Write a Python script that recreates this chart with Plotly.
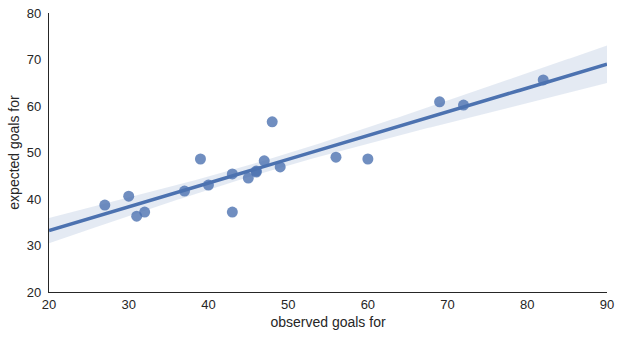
import numpy as np
import plotly.graph_objects as go

observed = [27, 30, 31, 32, 37, 39, 40, 43, 43, 45, 46, 46, 47, 48, 49, 56, 60, 69, 72, 82]
expected = [38.7, 40.6, 36.3, 37.2, 41.7, 48.6, 43.0, 45.4, 37.2, 44.5, 46.0, 45.8, 48.2, 56.6, 46.9, 49.0, 48.6, 60.9, 60.2, 65.6]
x_ticks = [20, 30, 40, 50, 60, 70, 80, 90]
y_ticks = [20, 30, 40, 50, 60, 70, 80]

x = np.array(observed, float)
y = np.array(expected, float)
n = len(x)
b, a = np.polyfit(x, y, 1)
resid = y - (a + b * x)
s = np.sqrt(np.sum(resid ** 2) / (n - 2))
xm = x.mean()
sxx = np.sum((x - xm) ** 2)
t = 1.55
xg = np.linspace(20, 90, 200)
yg = a + b * xg
se = s * np.sqrt(1.0 / n + (xg - xm) ** 2 / sxx)
lo = yg - t * se
hi = yg + t * se

color = "#4C72B0"
fig = go.Figure()
fig.add_trace(go.Scatter(x=np.concatenate([xg, xg[::-1]]), y=np.concatenate([hi, lo[::-1]]),
                         fill="toself", fillcolor="rgba(76,114,176,0.15)", line=dict(width=0),
                         hoverinfo="skip", showlegend=False))
fig.add_trace(go.Scatter(x=observed, y=expected, mode="markers",
                         marker=dict(size=11, color=color, opacity=0.8, line=dict(width=0)),
                         showlegend=False))
fig.add_trace(go.Scatter(x=xg, y=yg, mode="lines", line=dict(color=color, width=3.5),
                         showlegend=False))

font = dict(family="Liberation Sans, Arial, sans-serif", size=13, color="#262626")
fig.update_layout(
    width=620, height=339,
    margin=dict(l=49, r=13, t=13, b=47, autoexpand=False),
    plot_bgcolor="white", paper_bgcolor="white",
    font=font,
)
fig.update_xaxes(range=[20, 90], tickvals=x_ticks, showgrid=False, zeroline=False, automargin=False,
                 showline=True, linecolor="#262626", linewidth=1.2, ticks="", ticklen=0,
                 title=dict(text="observed goals for", font=dict(size=14), standoff=6),
                 tickfont=dict(size=13))
fig.update_yaxes(range=[20, 80], tickvals=y_ticks, showgrid=False, zeroline=False, automargin=False,
                 showline=True, linecolor="#262626", linewidth=1.2, ticks="", ticklen=0,
                 ticklabelstandoff=4,
                 title=dict(text="expected goals for", font=dict(size=14), standoff=3),
                 tickfont=dict(size=13))
fig.write_html("out.html")
